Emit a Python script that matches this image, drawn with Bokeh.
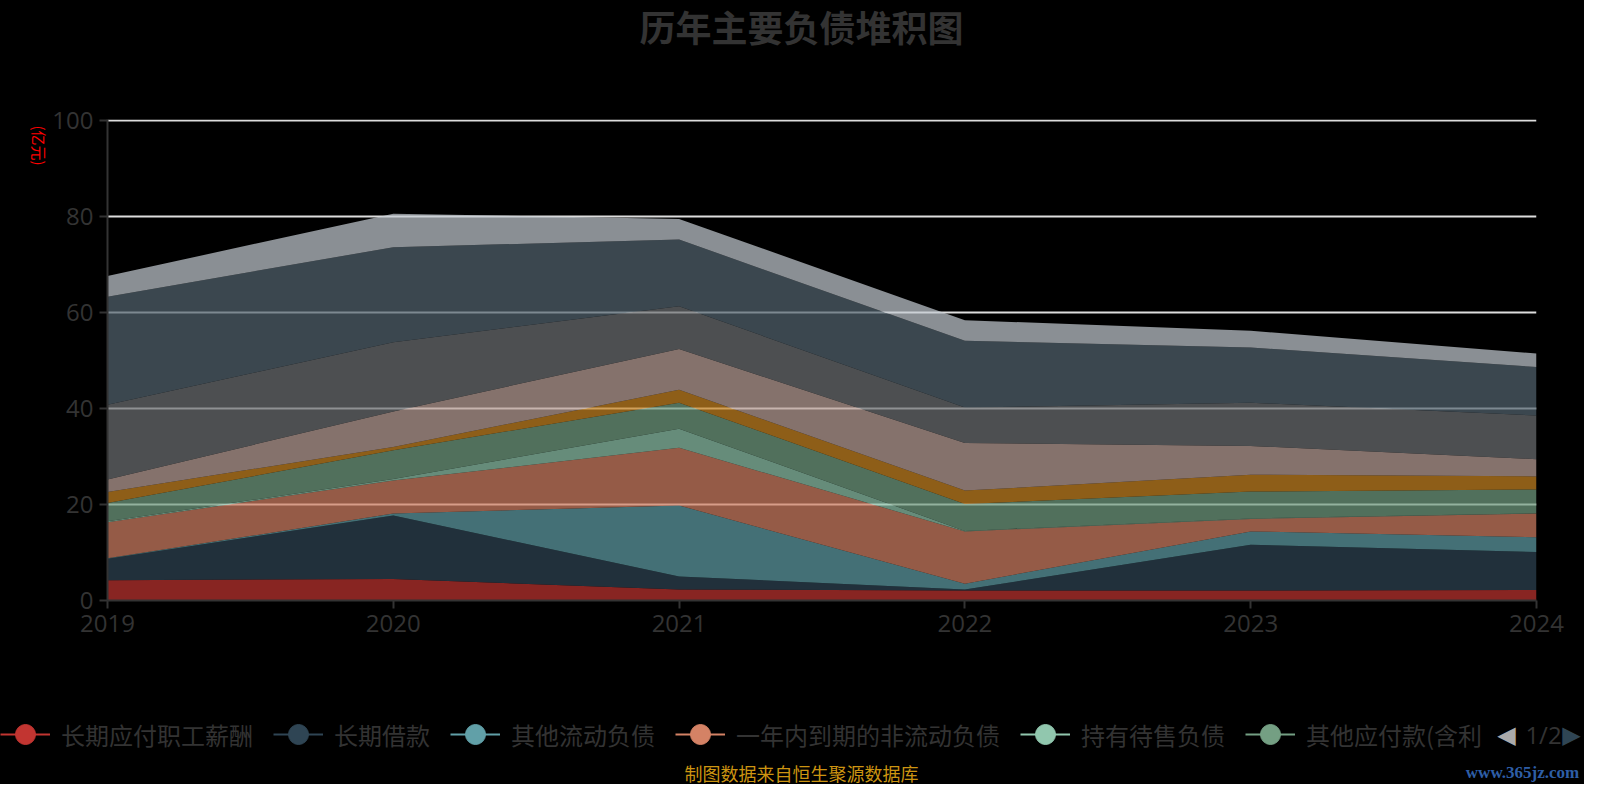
import math
from bokeh.plotting import figure
from bokeh.layouts import column, row
from bokeh.models import (ColumnDataSource, Range1d, FixedTicker, Legend, LegendItem, Label)
from bokeh.embed import file_html
from bokeh.resources import INLINE

# ---------------- data ----------------
years = ["2019", "2020", "2021", "2022", "2023", "2024"]
series_names = ["长期应付职工薪酬", "长期借款", "其他流动负债", "一年内到期的非流动负债",
                "持有待售负债", "其他应付款(含利息和股利)", "应交税费", "应付职工薪酬",
                "合同负债", "应付票据及应付账款", "短期借款"]
legend_labels = ["长期应付职工薪酬", "长期借款", "其他流动负债", "一年内到期的非流动负债",
                 "持有待售负债", "其他应付款(含利"]
v_changqi_xinchou = [4.2, 4.5, 2.3, 2.1, 2.1, 2.2]
v_changqi_jiekuan = [4.5, 13.2, 2.7, 0.2, 9.5, 7.9]
v_qita_liudong = [0.1, 0.4, 14.8, 1.2, 2.8, 3.1]
v_yinian_daoqi = [7.5, 6.9, 12.0, 10.9, 2.6, 4.9]
v_chiyou_daishou = [0.2, 0.3, 4.0, 0.1, 0.1, 0.05]
v_qita_yingfu = [3.8, 6.0, 5.4, 5.6, 5.6, 5.0]
v_yingjiao = [2.3, 0.7, 2.7, 2.8, 3.5, 2.7]
v_xinchou = [2.6, 7.4, 8.5, 9.9, 6.0, 3.6]
v_hetong = [15.6, 14.4, 8.9, 7.4, 9.0, 9.1]
v_yingfu = [22.5, 19.8, 13.9, 13.9, 11.5, 10.1]
v_duanqi = [4.3, 7.0, 4.3, 4.3, 3.5, 2.8]
series_values = [v_changqi_xinchou, v_changqi_jiekuan, v_qita_liudong, v_yinian_daoqi,
                 v_chiyou_daishou, v_qita_yingfu, v_yingjiao, v_xinchou, v_hetong,
                 v_yingfu, v_duanqi]
y_ticks = [0, 20, 40, 60, 80, 100]

palette = ['#c23531', '#2f4554', '#61a0a8', '#d48265', '#91c7ae', '#749f83',
           '#ca8622', '#bda29a', '#6e7074', '#546570', '#c4ccd3']

GRAY = "#333333"
TICK_FONT = "Open Sans"
CJK = "Noto Sans CJK SC"
W = 1584
LW = 49   # width of the strip holding the unit label
TOP = 100  # height of the title strip
MAIN_H = 550


def no_align(f):
    try:
        f.frame_align = False
    except Exception:
        pass


def blank(width, height):
    f = figure(width=width, height=height, output_backend="svg", toolbar_location=None,
               x_axis_location=None, y_axis_location=None,
               x_range=Range1d(0, width), y_range=Range1d(0, height),
               min_border=0, background_fill_color="black", border_fill_color="black")
    f.outline_line_color = None
    f.grid.visible = False
    no_align(f)
    return f


def lab(fig, x, y, text, **kw):
    fig.add_layout(Label(x=x, y=y, x_units="screen", y_units="screen", text=text,
                         text_align="center", text_baseline="middle", **kw))


# ---------------- title strip ----------------
pt = blank(W, TOP)
lab(pt, 801, TOP - 25, "历年主要负债堆积图", text_font=CJK, text_font_size="36px",
    text_font_style="bold", text_color=GRAY)

# ---------------- unit label strip ----------------
pl = blank(LW, MAIN_H)
lab(pl, 39, TOP + MAIN_H - 145, "(亿元)", angle=-math.pi / 2, text_font=CJK,
    text_font_size="15px", text_color="red")

# ---------------- main chart ----------------
xs = [int(y) for y in years]
data = {"x": xs}
for n, v in zip(series_names, series_values):
    data[n] = v
src = ColumnDataSource(data)

p = figure(width=W - LW, height=MAIN_H, output_backend="svg", toolbar_location=None,
           x_range=Range1d(xs[0], xs[-1]), y_range=Range1d(0, 100.21),
           min_border_left=107 - LW, min_border_right=48, min_border_top=119 - TOP,
           min_border_bottom=MAIN_H - (119 - TOP) - 481,
           background_fill_color="black", border_fill_color="black")
p.outline_line_color = None
no_align(p)

p.varea_stack(stackers=series_names, x="x", source=src,
              fill_color=palette, fill_alpha=0.7)

p.xaxis.ticker = FixedTicker(ticks=xs)
p.xaxis.major_label_overrides = {x: y for x, y in zip(xs, years)}
p.yaxis.ticker = FixedTicker(ticks=y_ticks)
for ax in (p.xaxis, p.yaxis):
    ax.axis_line_color = GRAY
    ax.axis_line_width = 2
    ax.major_tick_line_color = GRAY
    ax.major_tick_line_width = 2
    ax.major_tick_in = 0
    ax.major_tick_out = 8
    ax.minor_tick_line_color = None
    ax.major_label_text_color = GRAY
    ax.major_label_text_font = TICK_FONT
    ax.major_label_text_font_size = "24px"
p.xaxis.major_label_standoff = 6
p.yaxis.major_label_standoff = 6

p.xgrid.grid_line_color = None
p.ygrid.grid_line_color = "#dddddd"
p.ygrid.grid_line_width = 2

# ---------------- legend / footer strip ----------------
BH = 784 - TOP - MAIN_H
pb = blank(W, BH)
items = []
for name, c in zip(legend_labels, palette):
    lr = pb.line(x=[float("nan")], y=[float("nan")], line_color=c, line_width=2)
    sr = pb.scatter(x=[float("nan")], y=[float("nan")], marker="circle",
                    fill_color=c, line_color=c)
    items.append(LegendItem(label=name, renderers=[lr, sr]))
legend = Legend(items=items, orientation="horizontal", location=(0, 25),
                glyph_width=50, glyph_height=50, label_standoff=11, spacing=20,
                padding=0, margin=0, background_fill_alpha=0, border_line_alpha=0,
                label_text_font=CJK, label_text_font_size="24px",
                label_text_color=GRAY)
pb.add_layout(legend, "center")

lab(pb, 1506, 50, "◀", text_font="DejaVu Sans", text_font_size="24px", text_color="#aaaaaa")
lab(pb, 1543, 50, "1/2", text_font=TICK_FONT, text_font_size="24px", text_color=GRAY)
lab(pb, 1571, 50, "▶", text_font="DejaVu Sans", text_font_size="24px", text_color="#2f4554")
lab(pb, 801, 12, "制图数据来自恒生聚源数据库", text_font=CJK, text_font_size="18px",
    text_color="#cc9411")
lab(pb, 1522, 12, "www.365jz.com", text_font="Liberation Serif", text_font_size="17px",
    text_font_style="bold", text_color="#2e5ea6")

layout = column(pt, row(pl, p, spacing=0), pb, spacing=0,
                styles={"background-color": "black"})

open("out.html", "w").write(file_html(layout, INLINE))
